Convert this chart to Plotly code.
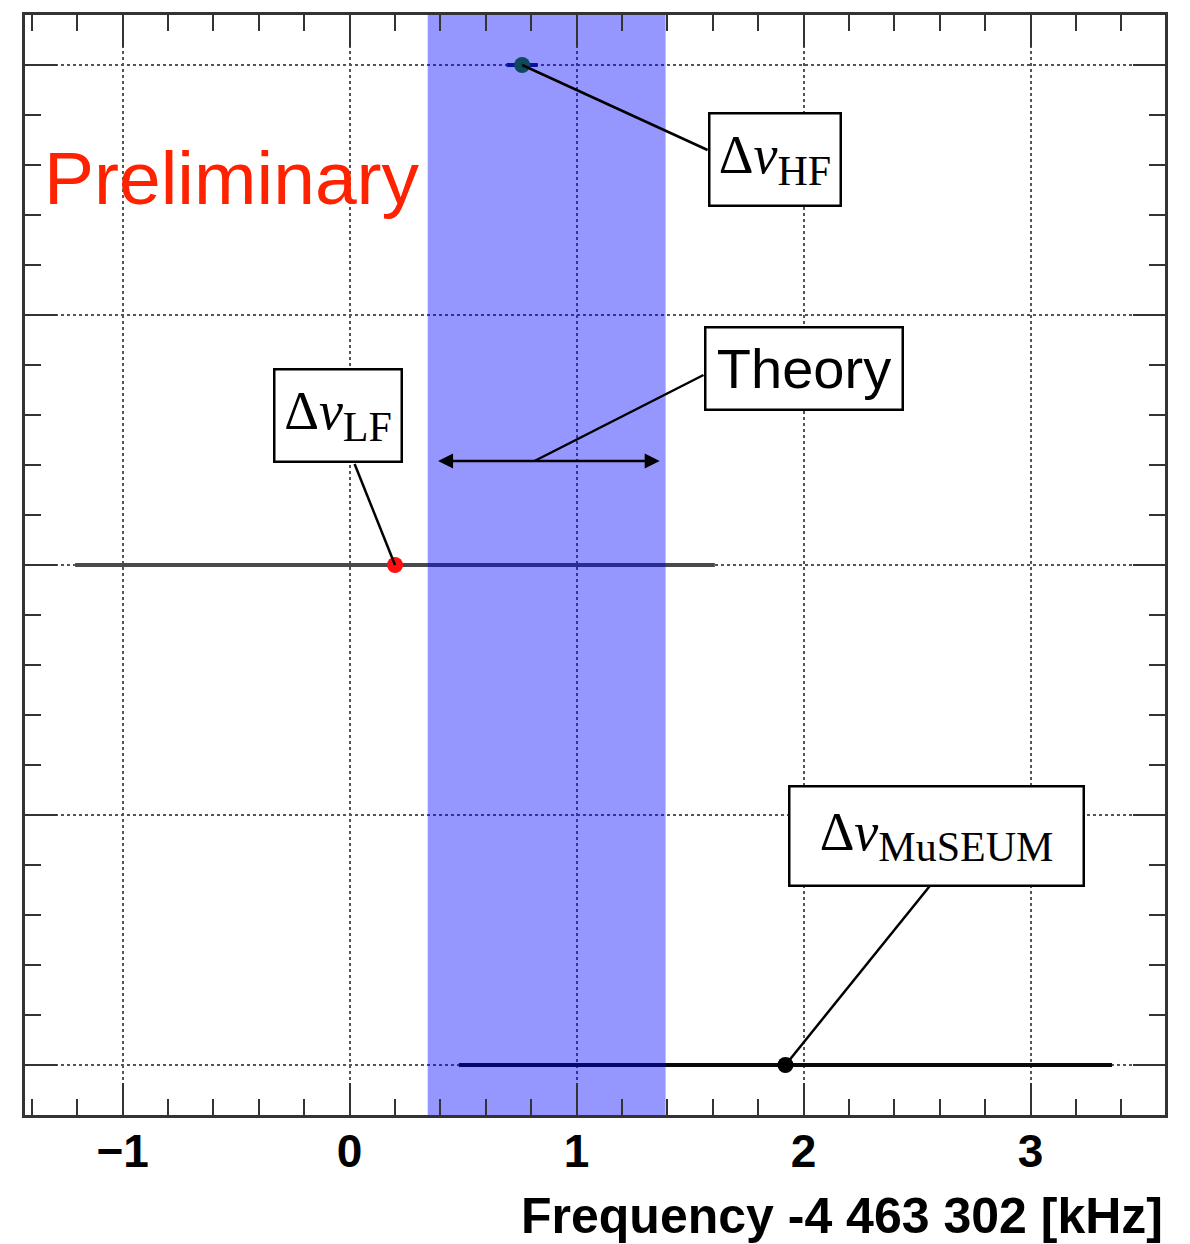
import plotly.graph_objects as go

# Measured splittings, offset from 4 463 302 kHz
labels = ["HF", "LF", "MuSEUM"]
values = [0.76, 0.20, 1.92]
errors = [0.06, 1.40, 1.43]
rows = [5, 3, 1]
marker_colors = ["#0d4a5e", "#ff1010", "#000000"]
bar_colors = ["#10205a", "#4a4a4a", "#0a0a0a"]

# Theory prediction band and its range arrow
theory_band = [0.344, 1.392]
theory_arrow = [0.383, 1.366]
theory_arrow_row = 3.416

x_range = [-1.43, 3.592]
y_range = [0.8, 5.2]
x_tickvals = [-1, 0, 1, 2, 3]

# Label box centres and leader-line attachment points (data coordinates)
label_boxes = {
    "HF": dict(x=1.872, y=4.622, w=129, h=90, attach=(1.577, 4.66)),
    "LF": dict(x=-0.053, y=3.598, w=125, h=90, attach=(0.022, 3.404)),
    "MuSEUM": dict(x=2.584, y=1.916, w=292, h=97, attach=(2.555, 1.715)),
}
theory_box = dict(x=2.0, y=3.786, w=195, h=80, attach=(1.559, 3.76))

fig = go.Figure()

# Horizontal error bars
for v, e, r, c in zip(values, errors, rows, bar_colors):
    fig.add_trace(go.Scatter(
        x=[v], y=[r], mode="markers",
        marker=dict(size=2, opacity=0),
        error_x=dict(type="constant", value=e, color=c, thickness=4, width=2),
        hoverinfo="skip", showlegend=False,
    ))

# Theory band (semi-transparent, over the error bars)
fig.add_trace(go.Scatter(
    x=[theory_band[0], theory_band[1], theory_band[1], theory_band[0], theory_band[0]],
    y=[y_range[0], y_range[0], y_range[1], y_range[1], y_range[0]],
    mode="lines", fill="toself", fillcolor="rgba(0,0,255,0.41)",
    line=dict(width=0), hoverinfo="skip", showlegend=False,
))

# Central values
for v, r, c in zip(values, rows, marker_colors):
    fig.add_trace(go.Scatter(
        x=[v], y=[r], mode="markers",
        marker=dict(size=16, color=c, line=dict(width=0)),
        hoverinfo="skip", showlegend=False,
    ))

shapes = []
annotations = []

serif = "Liberation Serif"
sans = "Liberation Sans"

for lab, v, r in zip(labels, values, rows):
    b = label_boxes[lab]
    shapes.append(dict(type="line", xref="x", yref="y",
                       x0=v, y0=r, x1=b["attach"][0], y1=b["attach"][1],
                       line=dict(color="black", width=2.5)))
    annotations.append(dict(
        x=b["x"], y=b["y"], xref="x", yref="y", showarrow=False,
        text=f"Δ<i>ν</i><sub><span style='font-size:42px'>{lab}</span></sub>",
        font=dict(family=serif, size=54, color="black"),
        bgcolor="white", bordercolor="black", borderwidth=2.5, borderpad=0,
        width=b["w"], height=b["h"], align="center", valign="middle",
    ))

# Theory label, leader line and range arrow
theory_mid = (theory_arrow[0] + theory_arrow[1]) / 2 - 0.06
shapes.append(dict(type="line", xref="x", yref="y",
                   x0=theory_mid, y0=theory_arrow_row,
                   x1=theory_box["attach"][0], y1=theory_box["attach"][1],
                   line=dict(color="black", width=2.5)))
annotations.append(dict(
    x=theory_box["x"], y=theory_box["y"], xref="x", yref="y", showarrow=False,
    text="Theory", font=dict(family=sans, size=56, color="black"),
    bgcolor="white", bordercolor="black", borderwidth=2.5, borderpad=0,
    width=theory_box["w"], height=theory_box["h"], align="center", valign="middle",
))
annotations.append(dict(
    x=theory_arrow[1], y=theory_arrow_row, ax=theory_arrow[0], ay=theory_arrow_row,
    xref="x", yref="y", axref="x", ayref="y", text="",
    showarrow=True, arrowside="end+start", arrowhead=2, arrowsize=1.2,
    arrowwidth=2.5, arrowcolor="black", standoff=0, startstandoff=0,
))

# Preliminary stamp
annotations.append(dict(
    x=0.0145, y=0.852, xref="paper", yref="paper", xanchor="left", yanchor="middle",
    text="Preliminary", showarrow=False,
    font=dict(family=sans, size=75, color="#ff2200"),
))

# Axis title, right-aligned under the axis
annotations.append(dict(
    x=1.0, y=-0.0915, xref="paper", yref="paper", xanchor="right", yanchor="middle",
    text="Frequency -4 463 302 [kHz]", showarrow=False,
    font=dict(family=sans, size=50, color="black", weight="bold"),
))

axis_common = dict(
    showline=True, linecolor="#333333", linewidth=2.5, mirror="ticks",
    ticks="inside", ticklen=32, tickwidth=2, tickcolor="#333333",
    showgrid=True, gridcolor="#555555", gridwidth=1.5, griddash="dot",
    zeroline=False,
)

fig.update_layout(
    width=1190, height=1244,
    margin=dict(l=25, r=25, t=15, b=129),
    plot_bgcolor="white", paper_bgcolor="white",
    shapes=shapes, annotations=annotations,
    xaxis=dict(
        range=x_range, tickmode="array", tickvals=x_tickvals,
        ticktext=[f"{t}" if t >= 0 else f"\u2212{abs(t)}" for t in x_tickvals],
        tickfont=dict(family=sans, size=46, color="black", weight="bold"),
        ticklabelstandoff=-6,
        minor=dict(dtick=0.2, tick0=0, ticks="inside", ticklen=16, tickwidth=2,
                   tickcolor="#333333", showgrid=False),
        **axis_common,
    ),
    yaxis=dict(
        range=y_range, tick0=0, dtick=1, showticklabels=False,
        minor=dict(dtick=0.2, tick0=0, ticks="inside", ticklen=16, tickwidth=2,
                   tickcolor="#333333", showgrid=False),
        **axis_common,
    ),
)

fig.write_html("out.html")
